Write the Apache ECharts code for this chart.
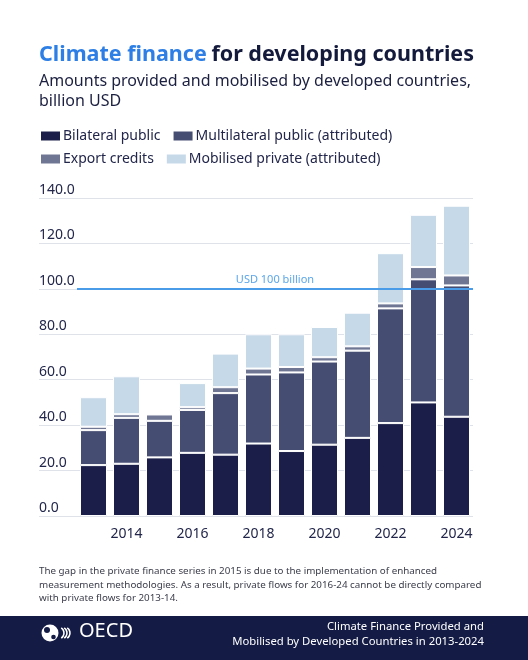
<!DOCTYPE html>
<html>
<head>
<meta charset="utf-8">
<title>Climate finance for developing countries</title>
<script src="https://cdn.jsdelivr.net/npm/echarts@6/dist/echarts.min.js"></script>
<style>
  html, body { margin: 0; padding: 0; background: #fff; }
  #chart { width: 528px; height: 660px; }
</style>
</head>
<body>
<div id="chart"></div>
<script>
// data, billion USD
var years = ['2013', '2014', '2015', '2016', '2017', '2018', '2019', '2020', '2021', '2022', '2023', '2024']
var bilateralPublic = [22.4, 23.0, 25.8, 27.8, 27.0, 31.9, 28.6, 31.4, 34.4, 40.9, 50.0, 43.7]
var multilateralPublic = [15.4, 20.2, 16.1, 18.9, 27.1, 30.4, 34.6, 36.6, 38.4, 50.5, 54.2, 57.8]
var exportCredits = [1.5, 1.6, 2.8, 1.2, 2.6, 2.6, 2.4, 1.9, 1.9, 2.2, 5.4, 4.4]
// no private figure for 2015 (break in series)
var mobilisedPrivate = [13.0, 16.7, '-', 10.6, 14.8, 15.1, 14.4, 13.3, 14.8, 22.1, 23.0, 30.7]
var yTicks = { min: 0, max: 140, interval: 20 }
var goal = 100

var seriesNames = ['Bilateral public', 'Multilateral public (attributed)', 'Export credits', 'Mobilised private (attributed)']
var seriesColors = ['#1a1e48', '#464d72', '#6f7694', '#c6d9e8']
var seriesValues = [bilateralPublic, multilateralPublic, exportCredits, mobilisedPrivate]

var FONT = 'Noto Sans'
var TEXT = '#22264a'

var myChart = echarts.init(document.getElementById('chart'))

var series = []
for (var i = 0; i < seriesNames.length; i++) {
  series.push({
    name: seriesNames[i],
    type: 'bar',
    stack: 'total',
    xAxisIndex: 1,
    yAxisIndex: 1,
    barWidth: 27,
    itemStyle: {
      color: seriesColors[i],
      borderColor: '#ffffff',
      borderWidth: 1
    },
    data: seriesValues[i]
  })
}

// USD 100 billion goal line, on top of the bars
series.push({
  type: 'line',
  xAxisIndex: 1,
  yAxisIndex: 1,
  z: 10,
  data: [],
  silent: true,
  markLine: {
    symbol: 'none',
    silent: true,
    lineStyle: { color: '#4a9be8', width: 2, type: 'solid' },
    label: {
      formatter: 'USD 100 billion',
      position: 'insideMiddleTop',
      distance: 3,
      color: '#5aa6ea',
      fontFamily: FONT,
      fontSize: 11
    },
    data: [{ yAxis: goal }]
  }
})

// legend is laid out as two rows of two items
function legendRow(top, names) {
  return {
    left: 34,
    top: top,
    itemWidth: 21,
    itemHeight: 11,
    itemGap: 11,
    icon: 'rect',
    selectedMode: false,
    data: names,
    textStyle: {
      color: TEXT,
      fontFamily: FONT,
      fontSize: 14,
      padding: [0, 0, 0, -3]
    }
  }
}

var option = {
  backgroundColor: '#ffffff',
  animation: false,
  textStyle: { fontFamily: FONT },
  title: {
    left: 34,
    top: 39,
    itemGap: 5,
    text: '{a|Climate finance} {b|for developing countries}',
    textStyle: {
      fontFamily: FONT,
      rich: {
        a: { color: '#2d7fe6', fontSize: 21.5, fontWeight: 'bold', fontFamily: FONT },
        b: { color: '#141a3c', fontSize: 21.5, fontWeight: 'bold', fontFamily: FONT }
      }
    },
    subtext: 'Amounts provided and mobilised by developed countries,\nbillion USD',
    subtextStyle: {
      color: '#1c2040',
      fontFamily: FONT,
      fontSize: 16,
      lineHeight: 20.6
    }
  },
  legend: [
    legendRow(124, seriesNames.slice(0, 2)),
    legendRow(147, seriesNames.slice(2, 4))
  ],
  grid: [
    { left: 39, right: 55, top: 198, bottom: 144 },
    { left: 77, right: 55, top: 198, bottom: 144 }
  ],
  xAxis: [
    { type: 'value', gridIndex: 0, show: false, min: 0, max: 1 },
    {
      type: 'category',
      gridIndex: 1,
      data: years,
      axisLine: { show: false },
      axisTick: { show: false },
      axisLabel: {
        margin: 11,
        color: TEXT,
        fontFamily: FONT,
        fontSize: 14,
        interval: function (idx) { return idx % 2 === 1 }
      }
    }
  ],
  yAxis: [
    {
      type: 'value',
      gridIndex: 0,
      min: yTicks.min,
      max: yTicks.max,
      interval: yTicks.interval,
      axisLine: { show: false },
      axisTick: { show: false },
      splitLine: { lineStyle: { color: '#dfe2e8', width: 1 } },
      axisLabel: {
        inside: true,
        margin: 0,
        align: 'left',
        verticalAlign: 'bottom',
        padding: [0, 0, 1, 0],
        color: TEXT,
        fontFamily: FONT,
        fontSize: 14,
        formatter: function (v) { return v.toFixed(1) }
      }
    },
    {
      type: 'value',
      gridIndex: 1,
      min: yTicks.min,
      max: yTicks.max,
      interval: yTicks.interval,
      show: false,
      splitLine: { show: false }
    }
  ],
  series: series,
  graphic: [
    {
      type: 'text',
      left: 39,
      top: 565,
      style: {
        text: 'The gap in the private finance series in 2015 is due to the implementation of enhanced\n' +
          'measurement methodologies. As a result, private flows for 2016-24 cannot be directly compared\n' +
          'with private flows for 2013-14.',
        fill: '#3a3c4a',
        font: '9.8px "Noto Sans"',
        lineHeight: 13.3
      }
    },
    {
      type: 'rect',
      left: 0,
      top: 616,
      shape: { width: 528, height: 44 },
      style: { fill: '#141b44' }
    },
    // OECD logo: globe + waves + wordmark
    {
      type: 'circle',
      shape: { cx: 50, cy: 633, r: 8.5 },
      style: { fill: '#ffffff' }
    },
    {
      type: 'circle',
      shape: { cx: 47, cy: 630, r: 3 },
      style: { fill: '#141b44' }
    },
    {
      type: 'circle',
      shape: { cx: 53.5, cy: 637, r: 2.3 },
      style: { fill: '#141b44' }
    },
    {
      type: 'arc',
      shape: { cx: 58, cy: 633, r: 6, startAngle: -1.0, endAngle: 1.0 },
      style: { stroke: '#ffffff', lineWidth: 1.6, fill: null }
    },
    {
      type: 'arc',
      shape: { cx: 61, cy: 633, r: 6, startAngle: -1.0, endAngle: 1.0 },
      style: { stroke: '#ffffff', lineWidth: 1.6, fill: null }
    },
    {
      type: 'arc',
      shape: { cx: 64, cy: 633, r: 6, startAngle: -1.0, endAngle: 1.0 },
      style: { stroke: '#ffffff', lineWidth: 1.6, fill: null }
    },
    {
      type: 'text',
      left: 79,
      top: 621,
      style: {
        text: 'OECD',
        fill: '#ffffff',
        font: '20px "Noto Sans"'
      }
    },
    {
      type: 'text',
      right: 44,
      top: 621,
      style: {
        text: 'Climate Finance Provided and',
        fill: '#ffffff',
        font: '11.3px "Noto Sans"'
      }
    },
    {
      type: 'text',
      right: 44,
      top: 636,
      style: {
        text: 'Mobilised by Developed Countries in 2013-2024',
        fill: '#ffffff',
        font: '11.3px "Noto Sans"'
      }
    }
  ]
}

myChart.setOption(option)
</script>
</body>
</html>
